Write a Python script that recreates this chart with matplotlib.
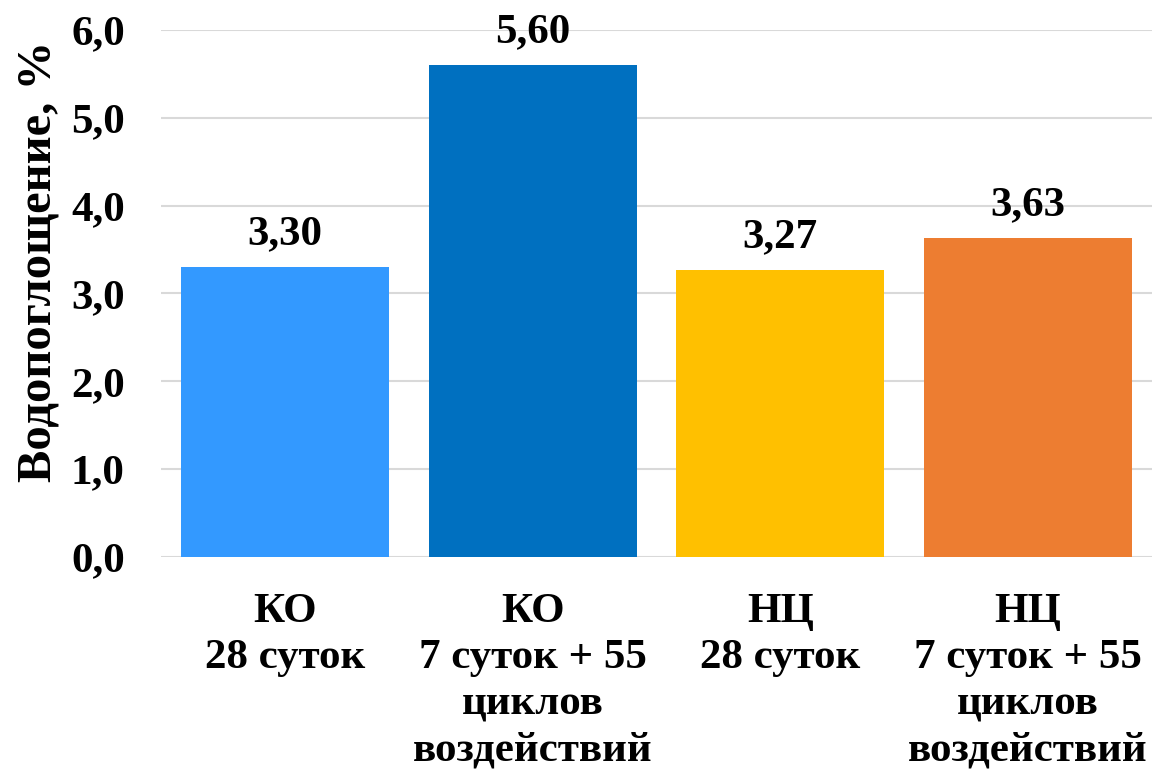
import numpy as np
import matplotlib.pyplot as plt

# Water absorption by sample type and curing regime
categories = ['КО\n28 суток', 'КО\n7 суток + 55\nциклов\nвоздействий',
              'НЦ\n28 суток', 'НЦ\n7 суток + 55\nциклов\nвоздействий']
values = [3.30, 5.60, 3.27, 3.63]
colors = ['#3399FF', '#0070C0', '#FFC000', '#ED7D31']
yticks = [0.0, 1.0, 2.0, 3.0, 4.0, 5.0, 6.0]

plt.rcParams['font.family'] = ['Liberation Serif', 'DejaVu Serif']
plt.rcParams['font.weight'] = 'bold'

fig = plt.figure(figsize=(11.53, 7.75), dpi=100)
ax = fig.add_axes([0.1396, 0.2813, 0.8595, 0.68])

x = np.arange(len(values))
bars = ax.bar(x, values, width=0.84, color=colors, zorder=2)

for b, v in zip(bars, values):
    ax.annotate(f'{v:.2f}'.replace('.', ','), (b.get_x() + b.get_width() / 2, v),
                xytext=(0, 10), textcoords='offset points', ha='center', va='bottom',
                fontsize=31, fontweight='bold')

ax.set_xlim(-0.5, len(values) - 0.5)
ax.set_ylim(0, 6.0)
ax.set_yticks(yticks)
ax.set_yticklabels([f'{t:.1f}'.replace('.', ',') for t in yticks], fontsize=31, fontweight='bold')
ax.set_xticks(x)
ax.set_xticklabels(categories, fontsize=31, fontweight='bold', linespacing=1.28)
ax.tick_params(axis='both', length=0)
ax.tick_params(axis='x', pad=26)
ax.tick_params(axis='y', pad=26)

ax.grid(axis='y', color='#D9D9D9', linewidth=1.5, zorder=0)
for s in ax.spines.values():
    s.set_visible(False)

ax.set_ylabel('Водопоглощение, %', fontsize=35, fontweight='bold')
ax.yaxis.set_label_coords(-0.101, 0.56)

fig.savefig('out.png', dpi=100)
